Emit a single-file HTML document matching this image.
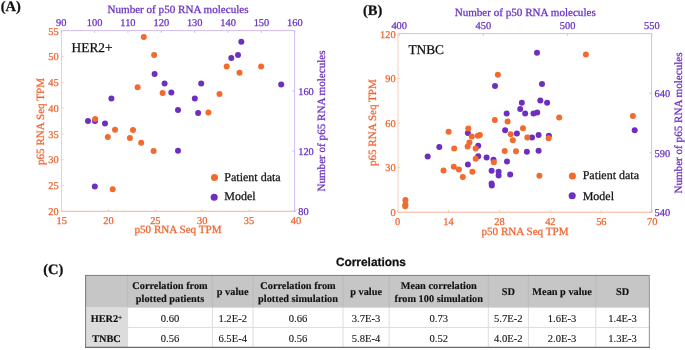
<!DOCTYPE html>
<html><head><meta charset="utf-8"><style>
html,body{margin:0;padding:0;background:#fff;}
body{width:685px;height:350px;overflow:hidden;}
svg{display:block;will-change:transform;font-family:"Liberation Serif",serif;text-rendering:geometricPrecision;}
</style></head><body>
<svg width="685" height="350" viewBox="0 0 685 350">
<rect width="685" height="350" fill="#fff"/>
<line x1="61.5" y1="211.3" x2="295.9" y2="211.3" stroke="#f5b296" stroke-width="1"/>
<line x1="61.5" y1="30.6" x2="61.5" y2="211.3" stroke="#f5cdb8" stroke-width="1"/>
<line x1="61.5" y1="30.6" x2="294.6" y2="30.6" stroke="#d2bdee" stroke-width="1"/>
<line x1="294.6" y1="30.6" x2="294.6" y2="211.3" stroke="#d2bdee" stroke-width="1"/>
<line x1="61.7" y1="211.3" x2="61.7" y2="209.10000000000002" stroke="#f5cdb8"/>
<text stroke="#ee6430" stroke-width="0.25" x="61.7" y="224" fill="#ee6430" text-anchor="middle" font-size="10.4">15</text>
<line x1="108.54" y1="211.3" x2="108.54" y2="209.10000000000002" stroke="#f5cdb8"/>
<text stroke="#ee6430" stroke-width="0.25" x="108.54" y="224" fill="#ee6430" text-anchor="middle" font-size="10.4">20</text>
<line x1="155.38" y1="211.3" x2="155.38" y2="209.10000000000002" stroke="#f5cdb8"/>
<text stroke="#ee6430" stroke-width="0.25" x="155.38" y="224" fill="#ee6430" text-anchor="middle" font-size="10.4">25</text>
<line x1="202.22" y1="211.3" x2="202.22" y2="209.10000000000002" stroke="#f5cdb8"/>
<text stroke="#ee6430" stroke-width="0.25" x="202.22" y="224" fill="#ee6430" text-anchor="middle" font-size="10.4">30</text>
<line x1="249.06" y1="211.3" x2="249.06" y2="209.10000000000002" stroke="#f5cdb8"/>
<text stroke="#ee6430" stroke-width="0.25" x="249.06" y="224" fill="#ee6430" text-anchor="middle" font-size="10.4">35</text>
<line x1="295.9" y1="211.3" x2="295.9" y2="209.10000000000002" stroke="#f5cdb8"/>
<text stroke="#ee6430" stroke-width="0.25" x="295.9" y="224" fill="#ee6430" text-anchor="middle" font-size="10.4">40</text>
<line x1="61.5" y1="211.2" x2="63.7" y2="211.2" stroke="#f5cdb8"/>
<text stroke="#ee6430" stroke-width="0.25" x="58.6" y="215" fill="#ee6430" text-anchor="end" font-size="10.4">20</text>
<line x1="61.5" y1="185.43" x2="63.7" y2="185.43" stroke="#f5cdb8"/>
<text stroke="#ee6430" stroke-width="0.25" x="58.6" y="189.23" fill="#ee6430" text-anchor="end" font-size="10.4">25</text>
<line x1="61.5" y1="159.66" x2="63.7" y2="159.66" stroke="#f5cdb8"/>
<text stroke="#ee6430" stroke-width="0.25" x="58.6" y="163.46" fill="#ee6430" text-anchor="end" font-size="10.4">30</text>
<line x1="61.5" y1="133.89" x2="63.7" y2="133.89" stroke="#f5cdb8"/>
<text stroke="#ee6430" stroke-width="0.25" x="58.6" y="137.69" fill="#ee6430" text-anchor="end" font-size="10.4">35</text>
<line x1="61.5" y1="108.11" x2="63.7" y2="108.11" stroke="#f5cdb8"/>
<text stroke="#ee6430" stroke-width="0.25" x="58.6" y="111.91" fill="#ee6430" text-anchor="end" font-size="10.4">40</text>
<line x1="61.5" y1="82.34" x2="63.7" y2="82.34" stroke="#f5cdb8"/>
<text stroke="#ee6430" stroke-width="0.25" x="58.6" y="86.14" fill="#ee6430" text-anchor="end" font-size="10.4">45</text>
<line x1="61.5" y1="56.57" x2="63.7" y2="56.57" stroke="#f5cdb8"/>
<text stroke="#ee6430" stroke-width="0.25" x="58.6" y="60.37" fill="#ee6430" text-anchor="end" font-size="10.4">50</text>
<line x1="61.5" y1="30.8" x2="63.7" y2="30.8" stroke="#f5cdb8"/>
<text stroke="#ee6430" stroke-width="0.25" x="58.6" y="34.6" fill="#ee6430" text-anchor="end" font-size="10.4">55</text>
<line x1="61.2" y1="30.6" x2="61.2" y2="32.800000000000004" stroke="#d2bdee"/>
<text stroke="#6a30c2" stroke-width="0.25" x="61.2" y="25.8" fill="#6a30c2" text-anchor="middle" font-size="10.4">90</text>
<line x1="94.57" y1="30.6" x2="94.57" y2="32.800000000000004" stroke="#d2bdee"/>
<text stroke="#6a30c2" stroke-width="0.25" x="94.57" y="25.8" fill="#6a30c2" text-anchor="middle" font-size="10.4">100</text>
<line x1="127.94" y1="30.6" x2="127.94" y2="32.800000000000004" stroke="#d2bdee"/>
<text stroke="#6a30c2" stroke-width="0.25" x="127.94" y="25.8" fill="#6a30c2" text-anchor="middle" font-size="10.4">110</text>
<line x1="161.31" y1="30.6" x2="161.31" y2="32.800000000000004" stroke="#d2bdee"/>
<text stroke="#6a30c2" stroke-width="0.25" x="161.31" y="25.8" fill="#6a30c2" text-anchor="middle" font-size="10.4">120</text>
<line x1="194.69" y1="30.6" x2="194.69" y2="32.800000000000004" stroke="#d2bdee"/>
<text stroke="#6a30c2" stroke-width="0.25" x="194.69" y="25.8" fill="#6a30c2" text-anchor="middle" font-size="10.4">130</text>
<line x1="228.06" y1="30.6" x2="228.06" y2="32.800000000000004" stroke="#d2bdee"/>
<text stroke="#6a30c2" stroke-width="0.25" x="228.06" y="25.8" fill="#6a30c2" text-anchor="middle" font-size="10.4">140</text>
<line x1="261.43" y1="30.6" x2="261.43" y2="32.800000000000004" stroke="#d2bdee"/>
<text stroke="#6a30c2" stroke-width="0.25" x="261.43" y="25.8" fill="#6a30c2" text-anchor="middle" font-size="10.4">150</text>
<line x1="294.8" y1="30.6" x2="294.8" y2="32.800000000000004" stroke="#d2bdee"/>
<text stroke="#6a30c2" stroke-width="0.25" x="294.8" y="25.8" fill="#6a30c2" text-anchor="middle" font-size="10.4">160</text>
<line x1="294.6" y1="211.1" x2="292.40000000000003" y2="211.1" stroke="#d2bdee"/>
<text stroke="#6a30c2" stroke-width="0.25" x="298.2" y="214.9" fill="#6a30c2" text-anchor="start" font-size="10.4">80</text>
<line x1="294.6" y1="151.07" x2="292.40000000000003" y2="151.07" stroke="#d2bdee"/>
<text stroke="#6a30c2" stroke-width="0.25" x="298.2" y="154.87" fill="#6a30c2" text-anchor="start" font-size="10.4">120</text>
<line x1="294.6" y1="91.03" x2="292.40000000000003" y2="91.03" stroke="#d2bdee"/>
<text stroke="#6a30c2" stroke-width="0.25" x="298.2" y="94.83" fill="#6a30c2" text-anchor="start" font-size="10.4">160</text>
<text stroke="#6a30c2" stroke-width="0.25" x="178" y="13.2" fill="#6a30c2" text-anchor="middle" font-size="11.1">Number of p50 RNA molecules</text>
<text stroke="#ee6430" stroke-width="0.25" x="178" y="233.3" fill="#ee6430" text-anchor="middle" font-size="11.1">p50 RNA Seq TPM</text>
<text stroke="#ee6430" stroke-width="0.25" transform="translate(43.8 121.5) rotate(-90)" fill="#ee6430" text-anchor="middle" font-size="11.1">p65 RNA Seq TPM</text>
<text stroke="#6a30c2" stroke-width="0.25" transform="translate(325.2 121) rotate(-90)" fill="#6a30c2" text-anchor="middle" font-size="11.1">Number of p65 RNA molecules</text>
<text stroke="#111" stroke-width="0.25" x="71.6" y="52" fill="#111" font-size="13.35">HER2+</text>
<circle cx="154.6" cy="74.1" r="3" fill="#6e2ec0"/>
<circle cx="164.6" cy="83.4" r="3" fill="#6e2ec0"/>
<circle cx="171.3" cy="92.4" r="3" fill="#6e2ec0"/>
<circle cx="111.4" cy="98.5" r="3" fill="#6e2ec0"/>
<circle cx="178" cy="110.1" r="3" fill="#6e2ec0"/>
<circle cx="241.3" cy="41.7" r="3" fill="#6e2ec0"/>
<circle cx="238" cy="55.1" r="3" fill="#6e2ec0"/>
<circle cx="231.3" cy="57.9" r="3" fill="#6e2ec0"/>
<circle cx="201.2" cy="83.4" r="3" fill="#6e2ec0"/>
<circle cx="281.2" cy="84.6" r="3" fill="#6e2ec0"/>
<circle cx="194.8" cy="98.5" r="3" fill="#6e2ec0"/>
<circle cx="198.1" cy="113" r="3" fill="#6e2ec0"/>
<circle cx="88" cy="120.9" r="3" fill="#6e2ec0"/>
<circle cx="95" cy="120.9" r="3" fill="#6e2ec0"/>
<circle cx="105" cy="123.5" r="3" fill="#6e2ec0"/>
<circle cx="178" cy="150.8" r="3" fill="#6e2ec0"/>
<circle cx="94.8" cy="186.5" r="3" fill="#6e2ec0"/>
<circle cx="143.8" cy="37.1" r="3" fill="#f26a2e"/>
<circle cx="154.1" cy="55.1" r="3" fill="#f26a2e"/>
<circle cx="137.6" cy="87.2" r="3" fill="#f26a2e"/>
<circle cx="162.6" cy="92.9" r="3" fill="#f26a2e"/>
<circle cx="226.7" cy="66.6" r="3" fill="#f26a2e"/>
<circle cx="261.1" cy="66.4" r="3" fill="#f26a2e"/>
<circle cx="239.5" cy="72.8" r="3" fill="#f26a2e"/>
<circle cx="219.5" cy="93.9" r="3" fill="#f26a2e"/>
<circle cx="208.4" cy="112.5" r="3" fill="#f26a2e"/>
<circle cx="95.2" cy="118.9" r="3" fill="#f26a2e"/>
<circle cx="115" cy="129.7" r="3" fill="#f26a2e"/>
<circle cx="133" cy="129.9" r="3" fill="#f26a2e"/>
<circle cx="107.8" cy="136.9" r="3" fill="#f26a2e"/>
<circle cx="129.9" cy="137.9" r="3" fill="#f26a2e"/>
<circle cx="141.2" cy="142.8" r="3" fill="#f26a2e"/>
<circle cx="153.6" cy="151" r="3" fill="#f26a2e"/>
<circle cx="112.7" cy="189.3" r="3" fill="#f26a2e"/>
<circle cx="214.5" cy="177.5" r="3.55" fill="#f26a2e"/>
<circle cx="214.2" cy="197.3" r="3.55" fill="#6e2ec0"/>
<text stroke="#111" stroke-width="0.25" x="224.3" y="180.6" fill="#111" font-size="12">Patient data</text>
<text stroke="#111" stroke-width="0.25" x="224.3" y="200.2" fill="#111" font-size="12">Model</text>
<line x1="398.0" y1="212.2" x2="652.3" y2="212.2" stroke="#f5b296" stroke-width="1"/>
<line x1="398.0" y1="33.6" x2="398.0" y2="212.2" stroke="#f5cdb8" stroke-width="1"/>
<line x1="398.0" y1="33.6" x2="651.6" y2="33.6" stroke="#d2bdee" stroke-width="1"/>
<line x1="651.6" y1="33.6" x2="651.6" y2="212.2" stroke="#d2bdee" stroke-width="1"/>
<line x1="397.5" y1="212.2" x2="397.5" y2="210.0" stroke="#f5cdb8"/>
<text stroke="#ee6430" stroke-width="0.25" x="397.5" y="224.9" fill="#ee6430" text-anchor="middle" font-size="10.4">0</text>
<line x1="448.46" y1="212.2" x2="448.46" y2="210.0" stroke="#f5cdb8"/>
<text stroke="#ee6430" stroke-width="0.25" x="448.46" y="224.9" fill="#ee6430" text-anchor="middle" font-size="10.4">14</text>
<line x1="499.42" y1="212.2" x2="499.42" y2="210.0" stroke="#f5cdb8"/>
<text stroke="#ee6430" stroke-width="0.25" x="499.42" y="224.9" fill="#ee6430" text-anchor="middle" font-size="10.4">28</text>
<line x1="550.38" y1="212.2" x2="550.38" y2="210.0" stroke="#f5cdb8"/>
<text stroke="#ee6430" stroke-width="0.25" x="550.38" y="224.9" fill="#ee6430" text-anchor="middle" font-size="10.4">42</text>
<line x1="601.34" y1="212.2" x2="601.34" y2="210.0" stroke="#f5cdb8"/>
<text stroke="#ee6430" stroke-width="0.25" x="601.34" y="224.9" fill="#ee6430" text-anchor="middle" font-size="10.4">56</text>
<line x1="652.3" y1="212.2" x2="652.3" y2="210.0" stroke="#f5cdb8"/>
<text stroke="#ee6430" stroke-width="0.25" x="652.3" y="224.9" fill="#ee6430" text-anchor="middle" font-size="10.4">70</text>
<line x1="398.0" y1="212.2" x2="400.2" y2="212.2" stroke="#f5cdb8"/>
<text stroke="#ee6430" stroke-width="0.25" x="395.6" y="216" fill="#ee6430" text-anchor="end" font-size="10.4">0</text>
<line x1="398.0" y1="167.6" x2="400.2" y2="167.6" stroke="#f5cdb8"/>
<text stroke="#ee6430" stroke-width="0.25" x="395.6" y="171.4" fill="#ee6430" text-anchor="end" font-size="10.4">30</text>
<line x1="398.0" y1="123" x2="400.2" y2="123" stroke="#f5cdb8"/>
<text stroke="#ee6430" stroke-width="0.25" x="395.6" y="126.8" fill="#ee6430" text-anchor="end" font-size="10.4">60</text>
<line x1="398.0" y1="78.4" x2="400.2" y2="78.4" stroke="#f5cdb8"/>
<text stroke="#ee6430" stroke-width="0.25" x="395.6" y="82.2" fill="#ee6430" text-anchor="end" font-size="10.4">90</text>
<line x1="398.0" y1="33.8" x2="400.2" y2="33.8" stroke="#f5cdb8"/>
<text stroke="#ee6430" stroke-width="0.25" x="395.6" y="37.6" fill="#ee6430" text-anchor="end" font-size="10.4">120</text>
<line x1="399.2" y1="33.6" x2="399.2" y2="35.800000000000004" stroke="#d2bdee"/>
<text stroke="#6a30c2" stroke-width="0.25" x="399.2" y="28.6" fill="#6a30c2" text-anchor="middle" font-size="10.4">400</text>
<line x1="483.4" y1="33.6" x2="483.4" y2="35.800000000000004" stroke="#d2bdee"/>
<text stroke="#6a30c2" stroke-width="0.25" x="483.4" y="28.6" fill="#6a30c2" text-anchor="middle" font-size="10.4">450</text>
<line x1="567.6" y1="33.6" x2="567.6" y2="35.800000000000004" stroke="#d2bdee"/>
<text stroke="#6a30c2" stroke-width="0.25" x="567.6" y="28.6" fill="#6a30c2" text-anchor="middle" font-size="10.4">500</text>
<line x1="651.8" y1="33.6" x2="651.8" y2="35.800000000000004" stroke="#d2bdee"/>
<text stroke="#6a30c2" stroke-width="0.25" x="651.8" y="28.6" fill="#6a30c2" text-anchor="middle" font-size="10.4">550</text>
<line x1="651.6" y1="212.3" x2="649.4" y2="212.3" stroke="#d2bdee"/>
<text stroke="#6a30c2" stroke-width="0.25" x="654.6" y="216.1" fill="#6a30c2" text-anchor="start" font-size="10.4">540</text>
<line x1="651.6" y1="152.8" x2="649.4" y2="152.8" stroke="#d2bdee"/>
<text stroke="#6a30c2" stroke-width="0.25" x="654.6" y="156.6" fill="#6a30c2" text-anchor="start" font-size="10.4">590</text>
<line x1="651.6" y1="93.3" x2="649.4" y2="93.3" stroke="#d2bdee"/>
<text stroke="#6a30c2" stroke-width="0.25" x="654.6" y="97.1" fill="#6a30c2" text-anchor="start" font-size="10.4">640</text>
<text stroke="#6a30c2" stroke-width="0.25" x="525.2" y="16.1" fill="#6a30c2" text-anchor="middle" font-size="11.1">Number of p50 RNA molecules</text>
<text stroke="#ee6430" stroke-width="0.25" x="525" y="235" fill="#ee6430" text-anchor="middle" font-size="11.1">p50 RNA Seq TPM</text>
<text stroke="#ee6430" stroke-width="0.25" transform="translate(375.6 122.6) rotate(-90)" fill="#ee6430" text-anchor="middle" font-size="11.1">p65 RNA Seq TPM</text>
<text stroke="#6a30c2" stroke-width="0.25" transform="translate(682.4 123) rotate(-90)" fill="#6a30c2" text-anchor="middle" font-size="11.1">Number of p65 RNA molecules</text>
<text stroke="#111" stroke-width="0.25" x="408.4" y="54" fill="#111" font-size="13.35">TNBC</text>
<circle cx="537" cy="52.8" r="3" fill="#6e2ec0"/>
<circle cx="495" cy="85.9" r="3" fill="#6e2ec0"/>
<circle cx="542" cy="84" r="3" fill="#6e2ec0"/>
<circle cx="521.8" cy="102.8" r="3" fill="#6e2ec0"/>
<circle cx="540.3" cy="100.4" r="3" fill="#6e2ec0"/>
<circle cx="547.1" cy="102.8" r="3" fill="#6e2ec0"/>
<circle cx="520.2" cy="108.9" r="3" fill="#6e2ec0"/>
<circle cx="525.2" cy="113.5" r="3" fill="#6e2ec0"/>
<circle cx="533.5" cy="113.6" r="3" fill="#6e2ec0"/>
<circle cx="537.2" cy="112.4" r="3" fill="#6e2ec0"/>
<circle cx="506.7" cy="113.5" r="3" fill="#6e2ec0"/>
<circle cx="505.1" cy="130.3" r="3" fill="#6e2ec0"/>
<circle cx="516.9" cy="133.6" r="3" fill="#6e2ec0"/>
<circle cx="538.6" cy="135" r="3" fill="#6e2ec0"/>
<circle cx="532" cy="137.5" r="3" fill="#6e2ec0"/>
<circle cx="548.9" cy="135.8" r="3" fill="#6e2ec0"/>
<circle cx="467.9" cy="132.9" r="3" fill="#6e2ec0"/>
<circle cx="439.3" cy="147" r="3" fill="#6e2ec0"/>
<circle cx="478.2" cy="145.7" r="3" fill="#6e2ec0"/>
<circle cx="478.2" cy="156.2" r="3" fill="#6e2ec0"/>
<circle cx="486.6" cy="157.5" r="3" fill="#6e2ec0"/>
<circle cx="493.5" cy="159.7" r="3" fill="#6e2ec0"/>
<circle cx="507" cy="161.4" r="3" fill="#6e2ec0"/>
<circle cx="467.9" cy="164.5" r="3" fill="#6e2ec0"/>
<circle cx="427.7" cy="156.6" r="3" fill="#6e2ec0"/>
<circle cx="526.9" cy="151.7" r="3" fill="#6e2ec0"/>
<circle cx="538.6" cy="150.7" r="3" fill="#6e2ec0"/>
<circle cx="491.6" cy="170.7" r="3" fill="#6e2ec0"/>
<circle cx="498.6" cy="171.8" r="3" fill="#6e2ec0"/>
<circle cx="498.6" cy="175.4" r="3" fill="#6e2ec0"/>
<circle cx="510.2" cy="174.4" r="3" fill="#6e2ec0"/>
<circle cx="491.6" cy="183.5" r="3" fill="#6e2ec0"/>
<circle cx="491.8" cy="185.5" r="3" fill="#6e2ec0"/>
<circle cx="634.7" cy="130.2" r="3" fill="#6e2ec0"/>
<circle cx="585.9" cy="54.5" r="3" fill="#f26a2e"/>
<circle cx="497.9" cy="74.8" r="3" fill="#f26a2e"/>
<circle cx="632.9" cy="116.1" r="3" fill="#f26a2e"/>
<circle cx="559.2" cy="117.5" r="3" fill="#f26a2e"/>
<circle cx="494.8" cy="119.9" r="3" fill="#f26a2e"/>
<circle cx="507.6" cy="121.5" r="3" fill="#f26a2e"/>
<circle cx="523" cy="128.2" r="3" fill="#f26a2e"/>
<circle cx="448.6" cy="131.8" r="3" fill="#f26a2e"/>
<circle cx="468.3" cy="128.4" r="3" fill="#f26a2e"/>
<circle cx="471.8" cy="136.4" r="3" fill="#f26a2e"/>
<circle cx="477.8" cy="135.7" r="3" fill="#f26a2e"/>
<circle cx="479.9" cy="135" r="3" fill="#f26a2e"/>
<circle cx="469.4" cy="142.5" r="3" fill="#f26a2e"/>
<circle cx="467.6" cy="146.6" r="3" fill="#f26a2e"/>
<circle cx="454.2" cy="148.5" r="3" fill="#f26a2e"/>
<circle cx="475.6" cy="148.5" r="3" fill="#f26a2e"/>
<circle cx="475.7" cy="158.8" r="3" fill="#f26a2e"/>
<circle cx="453.8" cy="166.8" r="3" fill="#f26a2e"/>
<circle cx="443.5" cy="170.6" r="3" fill="#f26a2e"/>
<circle cx="458.9" cy="169.4" r="3" fill="#f26a2e"/>
<circle cx="472.4" cy="171.8" r="3" fill="#f26a2e"/>
<circle cx="462.8" cy="177.1" r="3" fill="#f26a2e"/>
<circle cx="510.6" cy="134.3" r="3" fill="#f26a2e"/>
<circle cx="512.8" cy="140.2" r="3" fill="#f26a2e"/>
<circle cx="527.3" cy="137.5" r="3" fill="#f26a2e"/>
<circle cx="504.7" cy="151" r="3" fill="#f26a2e"/>
<circle cx="516" cy="151.3" r="3" fill="#f26a2e"/>
<circle cx="493.9" cy="162.3" r="3" fill="#f26a2e"/>
<circle cx="548.6" cy="138.2" r="3" fill="#f26a2e"/>
<circle cx="539.4" cy="175.8" r="3" fill="#f26a2e"/>
<circle cx="405.4" cy="199.9" r="3" fill="#f26a2e"/>
<circle cx="405.4" cy="204.6" r="3" fill="#f26a2e"/>
<circle cx="405.2" cy="206.3" r="3" fill="#f26a2e"/>
<circle cx="572.4" cy="176" r="3.55" fill="#f26a2e"/>
<circle cx="572.2" cy="195.8" r="3.55" fill="#6e2ec0"/>
<text stroke="#111" stroke-width="0.25" x="582.7" y="179.4" fill="#111" font-size="12">Patient data</text>
<text stroke="#111" stroke-width="0.25" x="582.7" y="199.8" fill="#111" font-size="12">Model</text>
<text stroke="#111" stroke-width="0.25" x="0.7" y="11.3" fill="#111" font-size="14.5" font-weight="bold">(A)</text>
<text stroke="#111" stroke-width="0.25" x="363" y="14.5" fill="#111" font-size="14.5" font-weight="bold">(B)</text>
<text stroke="#111" stroke-width="0.25" x="43.2" y="274.2" fill="#111" font-size="14.5" font-weight="bold">(C)</text>
<text stroke="#111" stroke-width="0.25" x="370.9" y="266.3" fill="#111" font-size="11.9" font-weight="bold" text-anchor="middle" style="font-family:'Liberation Sans',sans-serif">Correlations</text>
<rect x="85.4" y="274.8" width="563.8000000000001" height="32.80000000000001" fill="#c6c6c6"/>
<rect x="85.4" y="307.6" width="42.19999999999999" height="39.599999999999966" fill="#dcdcdc"/>
<line x1="127.6" y1="274.8" x2="127.6" y2="307.6" stroke="#b8b8b8" stroke-width="0.8"/>
<line x1="127.6" y1="307.6" x2="127.6" y2="347.2" stroke="#dcdcdc" stroke-width="1"/>
<line x1="212.4" y1="274.8" x2="212.4" y2="307.6" stroke="#b8b8b8" stroke-width="0.8"/>
<line x1="212.4" y1="307.6" x2="212.4" y2="347.2" stroke="#dcdcdc" stroke-width="1"/>
<line x1="253" y1="274.8" x2="253" y2="307.6" stroke="#b8b8b8" stroke-width="0.8"/>
<line x1="253" y1="307.6" x2="253" y2="347.2" stroke="#dcdcdc" stroke-width="1"/>
<line x1="343" y1="274.8" x2="343" y2="307.6" stroke="#b8b8b8" stroke-width="0.8"/>
<line x1="343" y1="307.6" x2="343" y2="347.2" stroke="#dcdcdc" stroke-width="1"/>
<line x1="389.2" y1="274.8" x2="389.2" y2="307.6" stroke="#b8b8b8" stroke-width="0.8"/>
<line x1="389.2" y1="307.6" x2="389.2" y2="347.2" stroke="#dcdcdc" stroke-width="1"/>
<line x1="488.3" y1="274.8" x2="488.3" y2="307.6" stroke="#b8b8b8" stroke-width="0.8"/>
<line x1="488.3" y1="307.6" x2="488.3" y2="347.2" stroke="#dcdcdc" stroke-width="1"/>
<line x1="528.4" y1="274.8" x2="528.4" y2="307.6" stroke="#b8b8b8" stroke-width="0.8"/>
<line x1="528.4" y1="307.6" x2="528.4" y2="347.2" stroke="#dcdcdc" stroke-width="1"/>
<line x1="595.8" y1="274.8" x2="595.8" y2="307.6" stroke="#b8b8b8" stroke-width="0.8"/>
<line x1="595.8" y1="307.6" x2="595.8" y2="347.2" stroke="#dcdcdc" stroke-width="1"/>
<line x1="85.4" y1="327.4" x2="649.2" y2="327.4" stroke="#dcdcdc" stroke-width="1"/>
<line x1="85" y1="275.5" x2="650" y2="275.5" stroke="#858585" stroke-width="1.2"/>
<line x1="85.6" y1="275" x2="85.6" y2="348" stroke="#7a7a7a" stroke-width="1"/>
<line x1="649.4" y1="275" x2="649.4" y2="348" stroke="#9a9a9a" stroke-width="1.1"/>
<line x1="85" y1="347.4" x2="650" y2="347.4" stroke="#6a6a6a" stroke-width="1.3"/>
<text stroke="#111" stroke-width="0.15" x="170" y="289.4" text-anchor="middle" font-size="10.3" font-weight="bold" fill="#111">Correlation from</text>
<text stroke="#111" stroke-width="0.15" x="170" y="302.2" text-anchor="middle" font-size="10.3" font-weight="bold" fill="#111">plotted patients</text>
<text stroke="#111" stroke-width="0.15" x="232.7" y="295.3" text-anchor="middle" font-size="10.3" font-weight="bold" fill="#111">p value</text>
<text stroke="#111" stroke-width="0.15" x="298" y="289.4" text-anchor="middle" font-size="10.3" font-weight="bold" fill="#111">Correlation from</text>
<text stroke="#111" stroke-width="0.15" x="298" y="302.2" text-anchor="middle" font-size="10.3" font-weight="bold" fill="#111">plotted simulation</text>
<text stroke="#111" stroke-width="0.15" x="366.1" y="295.3" text-anchor="middle" font-size="10.3" font-weight="bold" fill="#111">p value</text>
<text stroke="#111" stroke-width="0.15" x="438.75" y="289.4" text-anchor="middle" font-size="10.3" font-weight="bold" fill="#111">Mean correlation</text>
<text stroke="#111" stroke-width="0.15" x="438.75" y="302.2" text-anchor="middle" font-size="10.3" font-weight="bold" fill="#111">from 100 simulation</text>
<text stroke="#111" stroke-width="0.15" x="508.35" y="295.3" text-anchor="middle" font-size="10.3" font-weight="bold" fill="#111">SD</text>
<text stroke="#111" stroke-width="0.15" x="562.1" y="295.3" text-anchor="middle" font-size="10.3" font-weight="bold" fill="#111">Mean p value</text>
<text stroke="#111" stroke-width="0.15" x="622.5" y="295.3" text-anchor="middle" font-size="10.3" font-weight="bold" fill="#111">SD</text>
<text stroke="#111" stroke-width="0.15" x="106.5" y="322" text-anchor="middle" font-size="10.3" font-weight="bold" fill="#111">HER2<tspan font-size="7.5" font-weight="normal" dy="-1.8">+</tspan></text>
<text text-rendering="optimizeLegibility" stroke="#111" stroke-width="0.1" x="170" y="322" text-anchor="middle" font-size="10.6" fill="#111">0.60</text>
<text text-rendering="optimizeLegibility" stroke="#111" stroke-width="0.1" x="232.7" y="322" text-anchor="middle" font-size="10.6" fill="#111">1.2E-2</text>
<text text-rendering="optimizeLegibility" stroke="#111" stroke-width="0.1" x="298" y="322" text-anchor="middle" font-size="10.6" fill="#111">0.66</text>
<text text-rendering="optimizeLegibility" stroke="#111" stroke-width="0.1" x="366.1" y="322" text-anchor="middle" font-size="10.6" fill="#111">3.7E-3</text>
<text text-rendering="optimizeLegibility" stroke="#111" stroke-width="0.1" x="438.75" y="322" text-anchor="middle" font-size="10.6" fill="#111">0.73</text>
<text text-rendering="optimizeLegibility" stroke="#111" stroke-width="0.1" x="508.35" y="322" text-anchor="middle" font-size="10.6" fill="#111">5.7E-2</text>
<text text-rendering="optimizeLegibility" stroke="#111" stroke-width="0.1" x="562.1" y="322" text-anchor="middle" font-size="10.6" fill="#111">1.6E-3</text>
<text text-rendering="optimizeLegibility" stroke="#111" stroke-width="0.1" x="622.5" y="322" text-anchor="middle" font-size="10.6" fill="#111">1.4E-3</text>
<text stroke="#111" stroke-width="0.15" x="106.5" y="341.5" text-anchor="middle" font-size="10.3" font-weight="bold" fill="#111">TNBC</text>
<text text-rendering="optimizeLegibility" stroke="#111" stroke-width="0.1" x="170" y="341.5" text-anchor="middle" font-size="10.6" fill="#111">0.56</text>
<text text-rendering="optimizeLegibility" stroke="#111" stroke-width="0.1" x="232.7" y="341.5" text-anchor="middle" font-size="10.6" fill="#111">6.5E-4</text>
<text text-rendering="optimizeLegibility" stroke="#111" stroke-width="0.1" x="298" y="341.5" text-anchor="middle" font-size="10.6" fill="#111">0.56</text>
<text text-rendering="optimizeLegibility" stroke="#111" stroke-width="0.1" x="366.1" y="341.5" text-anchor="middle" font-size="10.6" fill="#111">5.8E-4</text>
<text text-rendering="optimizeLegibility" stroke="#111" stroke-width="0.1" x="438.75" y="341.5" text-anchor="middle" font-size="10.6" fill="#111">0.52</text>
<text text-rendering="optimizeLegibility" stroke="#111" stroke-width="0.1" x="508.35" y="341.5" text-anchor="middle" font-size="10.6" fill="#111">4.0E-2</text>
<text text-rendering="optimizeLegibility" stroke="#111" stroke-width="0.1" x="562.1" y="341.5" text-anchor="middle" font-size="10.6" fill="#111">2.0E-3</text>
<text text-rendering="optimizeLegibility" stroke="#111" stroke-width="0.1" x="622.5" y="341.5" text-anchor="middle" font-size="10.6" fill="#111">1.3E-3</text>
</svg>
</body></html>
